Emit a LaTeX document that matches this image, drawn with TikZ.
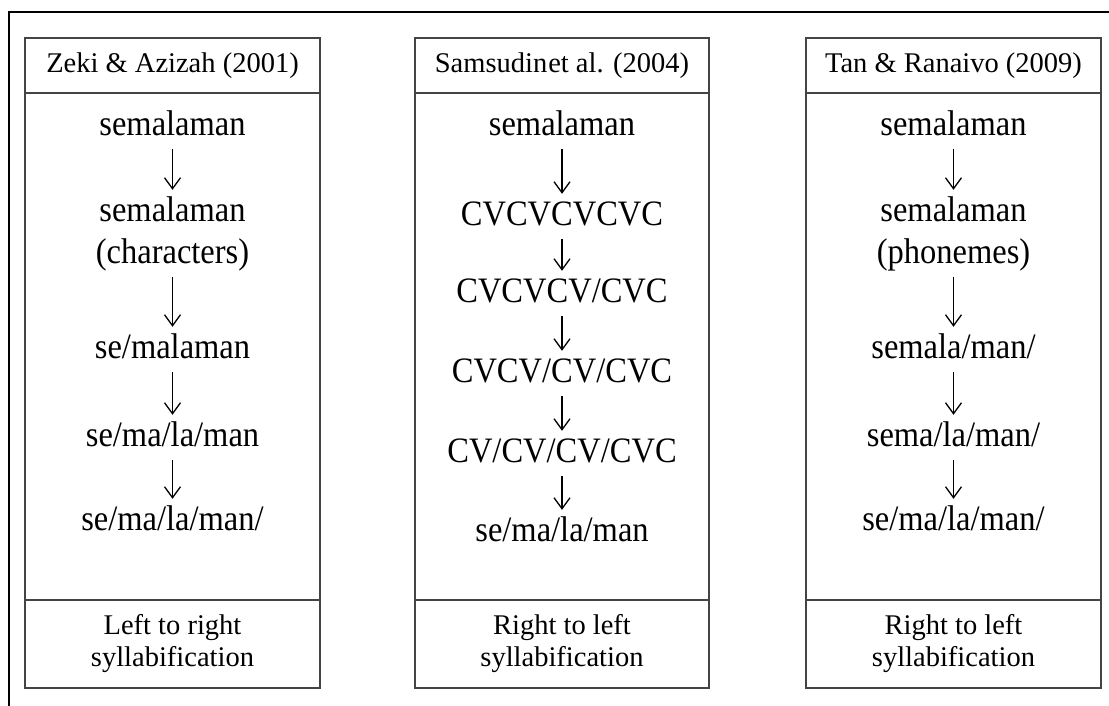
\documentclass[tikz,border=0pt]{standalone}
\usepackage{fontspec}
\setmainfont{Liberation Serif}
\usetikzlibrary{arrows.meta}
\definecolor{boxgray}{HTML}{444444}
% body entries are set slightly tall
\newcommand{\tallword}[1]{\scalebox{1}[1.1]{#1}}
\begin{document}
\begin{tikzpicture}[x=1pt,y=-1pt,
  panel/.style={draw=boxgray, line width=1.3pt},
  head/.style={font=\fontsize{28.5}{30}\selectfont, inner sep=0pt, anchor=center},
  item/.style={font=\fontsize{32.5}{36}\selectfont, inner sep=0pt, text height=25pt, text depth=9pt, anchor=base},
  foot/.style={font=\fontsize{28.5}{32}\selectfont, inner sep=0pt, align=center, anchor=center},
  flow/.style={-{Straight Barb[length=11pt,width=16pt,line width=1.3pt]}, line width=1.3pt, shorten <=5pt, shorten >=6pt}
]
\useasboundingbox (0,0) rectangle (1109,705);

% outer frame
\draw[line width=2pt] (9,706) -- (9,12) -- (1110,12);

% three panels: header, body and footer rows
\foreach \xl/\xr in {25/320, 415/709, 806/1101} {
  \draw[panel] (\xl,38) rectangle (\xr,688);
  \draw[panel] (\xl,93) -- (\xr,93);
  \draw[panel] (\xl,600) -- (\xr,600);
}

% ---- Zeki & Azizah (2001)
\node[head] (h1) at (172.5,65.5) {Zeki \& Azizah (2001)};
\node[item] (a1) at (172.5,135) {\tallword{semalaman}};
\node[item] (a2) at (172.5,221) {\tallword{semalaman}};
\node[item] (a2b) at (172.5,263) {\tallword{(characters)}};
\node[item] (a3) at (172.5,358) {\tallword{se/malaman}};
\node[item] (a4) at (172.5,446) {\tallword{se/ma/la/man}};
\node[item] (a5) at (172.5,530) {\tallword{se/ma/la/man/}};
\node[foot] (f1) at (172.5,644) {Left to right\\syllabification};
\draw[flow] (a1) -- (a2);
\draw[flow] (a2b) -- (a3);
\draw[flow] (a3) -- (a4);
\draw[flow] (a4) -- (a5);

% ---- Samsudin et al. (2004)
\node[head] (h2) at (562,65.5) {Samsudin\hspace{1pt}et al. (2004)};
\node[item] (b1) at (562,135) {\tallword{semalaman}};
\node[item] (b2) at (562,225) {\tallword{CVCVCVCVC}};
\node[item] (b3) at (562,302) {\tallword{CVCVCV/CVC}};
\node[item] (b4) at (562,382) {\tallword{CVCV/CV/CVC}};
\node[item] (b5) at (562,462) {\tallword{CV/CV/CV/CVC}};
\node[item] (b6) at (562,541) {\tallword{se/ma/la/man}};
\node[foot] (f2) at (562,644) {Right to left\\syllabification};
\draw[flow] (b1) -- (b2);
\draw[flow] (b2) -- (b3);
\draw[flow] (b3) -- (b4);
\draw[flow] (b4) -- (b5);
\draw[flow] (b5) -- (b6);

% ---- Tan & Ranaivo (2009)
\node[head] (h3) at (953.5,65.5) {Tan \& Ranaivo (2009)};
\node[item] (c1) at (953.5,135) {\tallword{semalaman}};
\node[item] (c2) at (953.5,221) {\tallword{semalaman}};
\node[item] (c2b) at (953.5,263) {\tallword{(phonemes)}};
\node[item] (c3) at (953.5,358) {\tallword{semala/man/}};
\node[item] (c4) at (953.5,446) {\tallword{sema/la/man/}};
\node[item] (c5) at (953.5,530) {\tallword{se/ma/la/man/}};
\node[foot] (f3) at (953.5,644) {Right to left\\syllabification};
\draw[flow] (c1) -- (c2);
\draw[flow] (c2b) -- (c3);
\draw[flow] (c3) -- (c4);
\draw[flow] (c4) -- (c5);
\end{tikzpicture}
\end{document}
